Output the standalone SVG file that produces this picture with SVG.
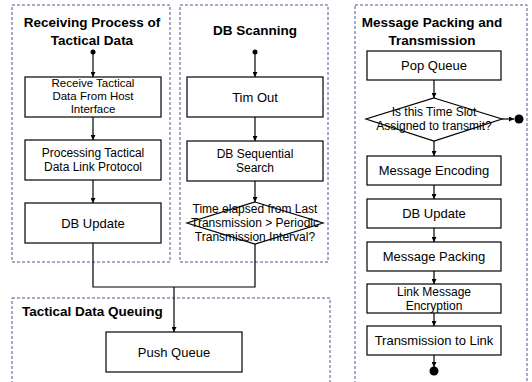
<svg xmlns="http://www.w3.org/2000/svg" width="532" height="382" viewBox="0 0 532 382">
<defs>
<style>
.cont{fill:none;stroke:#4a5a8c;stroke-width:1;stroke-dasharray:3,2}
.box{fill:#fff;stroke:#000;stroke-width:1.2}
.t{font-family:"Liberation Sans",Arial,sans-serif;font-size:12px;fill:#000;text-anchor:middle}
.s{font-size:13px}
.h{font-family:"Liberation Sans",Arial,sans-serif;font-size:13.5px;font-weight:bold;fill:#000;text-anchor:middle}
.ln{fill:none;stroke:#000;stroke-width:1.2}
</style>
<marker id="ah" viewBox="0 0 8 8" refX="8" refY="4" markerWidth="5" markerHeight="5" orient="auto" markerUnits="userSpaceOnUse">
<path d="M0,0 L8,4 L0,8 z" fill="#000"/>
</marker>
</defs>
<rect width="532" height="382" fill="#fff"/>
<g id="containers">
<rect class="cont" x="12" y="5" width="158" height="257"/>
<rect class="cont" x="180" y="5" width="148" height="257"/>
<rect class="cont" x="355" y="5" width="172" height="390"/>
<rect class="cont" x="12" y="298" width="318" height="100"/>
<text class="h" x="92" y="27">Receiving Process of<tspan x="92" dy="18">Tactical Data</tspan></text>
<text class="h" x="255" y="35">DB Scanning</text>
<text class="h" x="432" y="27">Message Packing and<tspan x="432" dy="18">Transmission</tspan></text>
<text class="h" x="22" y="316" style="text-anchor:start">Tactical Data Queuing</text>
</g>
<g id="connectors">
<circle cx="93" cy="52" r="2.5" fill="#000"/>
<line class="ln" x1="93" y1="52" x2="93" y2="77" marker-end="url(#ah)"/>
<line class="ln" x1="93" y1="117" x2="93" y2="140" marker-end="url(#ah)"/>
<line class="ln" x1="93" y1="180" x2="93" y2="203" marker-end="url(#ah)"/>
<circle cx="255" cy="52" r="2.5" fill="#000"/>
<line class="ln" x1="255" y1="52" x2="255" y2="77" marker-end="url(#ah)"/>
<line class="ln" x1="255" y1="117" x2="255" y2="141" marker-end="url(#ah)"/>
<line class="ln" x1="255" y1="181" x2="255" y2="202" marker-end="url(#ah)"/>
<path class="ln" d="M93,243 V287 H255 V244"/>
<line class="ln" x1="174" y1="287" x2="174" y2="332" marker-end="url(#ah)"/>
<line class="ln" x1="434" y1="80" x2="434" y2="98" marker-end="url(#ah)"/>
<line class="ln" x1="502" y1="119" x2="514" y2="119" marker-end="url(#ah)"/>
<circle cx="519" cy="119" r="4.5" fill="#000"/>
<line class="ln" x1="434" y1="141" x2="434" y2="156" marker-end="url(#ah)"/>
<line class="ln" x1="434" y1="185" x2="434" y2="199" marker-end="url(#ah)"/>
<line class="ln" x1="434" y1="228" x2="434" y2="242" marker-end="url(#ah)"/>
<line class="ln" x1="434" y1="271" x2="434" y2="284" marker-end="url(#ah)"/>
<line class="ln" x1="434" y1="313" x2="434" y2="326" marker-end="url(#ah)"/>
<line class="ln" x1="434" y1="355" x2="434" y2="367" marker-end="url(#ah)"/>
<circle cx="434" cy="371" r="4.5" fill="#000"/>
</g>
<g id="n-receive">
<rect class="box" x="25" y="77" width="136" height="40"/>
<text class="t" x="93" y="87" style="font-size:11.5px">Receive Tactical<tspan x="93" dy="13">Data From Host</tspan><tspan x="93" dy="13">Interface</tspan></text>
</g>
<g id="n-processing">
<rect class="box" x="25" y="140" width="136" height="40"/>
<text class="t" x="93" y="157">Processing Tactical<tspan x="93" dy="13.5">Data Link Protocol</tspan></text>
</g>
<g id="n-dbupdate1">
<rect class="box" x="25" y="203" width="136" height="40"/>
<text class="t s" x="93" y="227.5">DB Update</text>
</g>
<g id="n-timout">
<rect class="box" x="187" y="77" width="136" height="40"/>
<text class="t s" x="255" y="101.5">Tim Out</text>
</g>
<g id="n-dbseq">
<rect class="box" x="187" y="141" width="136" height="40"/>
<text class="t" x="255" y="158">DB Sequential<tspan x="255" dy="13.5">Search</tspan></text>
</g>
<g id="n-elapsed">
<polygon class="box" points="255,202 323,223 255,244 187,223"/>
<text class="t" x="255" y="213">Time elapsed from Last<tspan x="255" dy="14">Transmission &gt; Periodic</tspan><tspan x="255" dy="14">Transmission Interval?</tspan></text>
</g>
<g id="n-push">
<rect class="box" x="106" y="332" width="136" height="40"/>
<text class="t s" x="174" y="356.5">Push Queue</text>
</g>
<g id="n-pop">
<rect class="box" x="367" y="51" width="134" height="29"/>
<text class="t s" x="434" y="70">Pop Queue</text>
</g>
<g id="n-slot">
<polygon class="box" points="434,98 502,119 434,141 366,119"/>
<text class="t" x="434" y="116">Is this Time Slot<tspan x="434" dy="14">Assigned to transmit?</tspan></text>
</g>
<g id="n-encoding">
<rect class="box" x="367" y="156" width="134" height="29"/>
<text class="t s" x="434" y="175">Message Encoding</text>
</g>
<g id="n-dbupdate2">
<rect class="box" x="367" y="199" width="134" height="29"/>
<text class="t s" x="434" y="218">DB Update</text>
</g>
<g id="n-packing">
<rect class="box" x="367" y="242" width="134" height="29"/>
<text class="t s" x="434" y="261">Message Packing</text>
</g>
<g id="n-encryption">
<rect class="box" x="367" y="284" width="134" height="29"/>
<text class="t" x="434" y="296">Link Message<tspan x="434" dy="13.5">Encryption</tspan></text>
</g>
<g id="n-transmit">
<rect class="box" x="367" y="326" width="134" height="29"/>
<text class="t s" x="434" y="345">Transmission to Link</text>
</g>
</svg>
